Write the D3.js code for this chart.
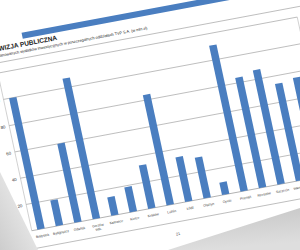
<!DOCTYPE html>
<html>
<head>
<meta charset="utf-8">
<script src="https://cdn.jsdelivr.net/npm/d3@7"></script>
<style>
html, body { margin: 0; padding: 0; background: #fff; overflow: hidden; }
svg { display: block; }
text { font-family: "Liberation Sans", Arial, sans-serif; }
</style>
</head>
<body>
<svg id="chart" width="300" height="250"></svg>
<script>
const categories = ['Białystok', 'Bydgoszcz', 'Gdańsk', 'Gorzów Wlk.', 'Katowice', 'Kielce', 'Kraków', 'Lublin',
    'Łódź', 'Olsztyn', 'Opole', 'Poznań', 'Rzeszów', 'Szczecin', 'Warszawa', 'Wrocław']
const values = [100, 19.5, 60, 107, 14, 19, 33, 84, 34, 31, 9.5, 111, 84, 87, 74, 76]
const yTicks = [0, 20, 40, 60, 80, 100, 120]
const title = 'TELEWIZJA PUBLICZNA'
const subtitle = 'Podział planowanych wydatków inwestycyjnych w poszczególnych oddziałach TVP S.A. (w mln zł)'
const pageNumber = '21'

const svg = d3.select('#chart')
const blue = '#4a7ec0'

// the page is photographed at an angle, so everything sits on a tilted sheet
const page = svg.append('g')
    .attr('transform', 'matrix(0.972,-0.182,0.212,0.985,31.77,230.73)')

const x = d3.scaleBand().domain(categories).range([0, 304]).paddingInner(0.6).paddingOuter(0.3)
const y = d3.scaleLinear().domain([0, 120]).range([0, -160])
const plotRight = 308

/* header */
page.append('rect')
    .attr('x', 32).attr('y', -195).attr('width', 420).attr('height', 6)
    .attr('fill', blue)

page.append('text')
    .attr('x', -11).attr('y', -181.5)
    .attr('font-size', 6.6).attr('font-weight', 'bold').attr('fill', '#222')
    .text(title)

page.append('text')
    .attr('x', -11).attr('y', -175.5)
    .attr('font-size', 3.9).attr('fill', '#222')
    .text(subtitle)

page.append('line')
    .attr('x1', -14).attr('x2', 340).attr('y1', -170).attr('y2', -170)
    .attr('stroke', '#9a9a9a').attr('stroke-width', 0.6)

/* grid and frame */
page.append('g')
    .selectAll('line')
    .data(yTicks)
    .enter().append('line')
    .attr('x1', 0).attr('x2', plotRight)
    .attr('y1', d => y(d)).attr('y2', d => y(d))
    .attr('stroke', d => d === 0 ? '#888' : '#9a9a9a')
    .attr('stroke-width', 0.6)

page.append('g')
    .selectAll('line')
    .data([0, plotRight])
    .enter().append('line')
    .attr('x1', d => d).attr('x2', d => d)
    .attr('y1', y(0)).attr('y2', y(120))
    .attr('stroke', '#a8a8a8').attr('stroke-width', 0.5)

const yAxis = page.append('g')
    .call(d3.axisLeft(y).tickValues(yTicks).tickSize(0).tickPadding(4))
yAxis.select('.domain').remove()
yAxis.selectAll('text')
    .attr('font-size', 4.4).attr('fill', '#333')
    .style('font-family', '"Liberation Sans", Arial, sans-serif')

/* bars */
page.append('g')
    .selectAll('rect')
    .data(values)
    .enter().append('rect')
    .attr('x', (d, i) => x(categories[i]))
    .attr('y', d => y(d))
    .attr('width', x.bandwidth())
    .attr('height', d => y(0) - y(d))
    .attr('fill', blue)

/* category labels, two-word names wrap */
const labels = page.append('g')
    .selectAll('text')
    .data(categories)
    .enter().append('text')
    .attr('text-anchor', 'middle')
    .attr('font-size', 3.4).attr('fill', '#333')
    .attr('transform', d => `translate(${x(d) + x.bandwidth() / 2},8)`)

labels.selectAll('tspan')
    .data(d => d.split(' '))
    .enter().append('tspan')
    .attr('x', 0)
    .attr('dy', (d, i) => i ? 4 : 0)
    .text(d => d)

page.append('line')
    .attr('x1', -14).attr('x2', 340).attr('y1', 18).attr('y2', 18)
    .attr('stroke', '#9a9a9a').attr('stroke-width', 0.6)

page.append('text')
    .attr('x', 144).attr('y', 31)
    .attr('text-anchor', 'middle')
    .attr('font-size', 3.8).attr('fill', '#444')
    .text(pageNumber)

/* shadows around the sheet edges */
const defs = svg.append('defs')
const gl = defs.append('linearGradient').attr('id', 'shadeL')
    .attr('x1', 1).attr('y1', 0).attr('x2', 0).attr('y2', 1)
gl.append('stop').attr('offset', 0).attr('stop-color', '#f6f6f6')
gl.append('stop').attr('offset', 1).attr('stop-color', '#cdcdcd')
const gr = defs.append('linearGradient').attr('id', 'shadeR')
    .attr('x1', 0).attr('y1', 0).attr('x2', 0.25).attr('y2', 1)
gr.append('stop').attr('offset', 0).attr('stop-color', '#c4c4c4')
gr.append('stop').attr('offset', 1).attr('stop-color', '#dedede')

svg.append('path')
    .attr('d', 'M0,172 L38,250 L0,250 Z')
    .attr('fill', 'url(#shadeL)')

svg.append('path')
    .attr('d', 'M168,250 L300,208 L300,250 Z')
    .attr('fill', 'url(#shadeR)')
</script>
</body>
</html>
